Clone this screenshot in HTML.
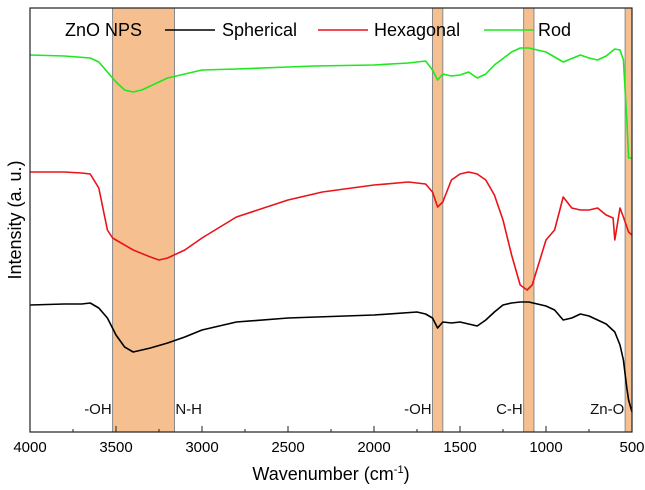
<!DOCTYPE html>
<html><head><meta charset="utf-8"><style>
body{margin:0;background:#fff}
svg{display:block;font-family:"Liberation Sans",sans-serif}
</style></head><body>
<svg id="chart" width="645" height="490"></svg>
<script>
const bands=[[3520,3160],[1660,1600],[1130,1070],[540,500]];
const xTicks=[4000,3500,3000,2500,2000,1500,1000,500];
const rodWn=[4000,3800,3650,3600,3550,3500,3450,3400,3350,3300,3200,3100,3000,2800,2500,2350,2000,1800,1700,1660,1630,1600,1550,1500,1450,1400,1350,1300,1200,1150,1100,1000,900,800,750,700,650,600,570,550,530,520,500];
const rodI=[445,444,442,438,428,418,410,408,410,414,422,426,430,431,433,434,435,437,439,430,420,426,424,425,428,422,426,435,448,452,452,448,438,445,442,440,444,451,450,440,380,342,342];
const hexWn=[4000,3800,3700,3650,3600,3550,3520,3480,3400,3300,3250,3200,3100,3000,2800,2500,2300,2000,1800,1700,1660,1630,1600,1550,1500,1450,1400,1350,1300,1250,1200,1150,1110,1080,1050,1000,950,900,850,800,750,700,650,610,600,570,550,520,500];
const hexI=[328,328,327,326,312,270,262,258,250,243,240,242,250,262,283,300,308,315,318,316,308,293,298,320,326,328,326,320,305,280,245,215,210,215,232,260,270,303,292,290,290,292,285,282,260,292,283,268,265];
const sphWn=[4000,3800,3700,3650,3600,3550,3500,3450,3400,3300,3200,3100,3000,2800,2500,2000,1750,1700,1660,1630,1600,1550,1500,1450,1400,1350,1300,1250,1200,1150,1100,1050,1000,950,900,850,800,750,700,650,600,570,550,530,520,500];
const sphI=[195,196,196,197,192,182,165,153,148,152,157,163,170,178,182,185,188,186,182,172,178,177,178,176,174,180,188,195,197,198,198,196,194,190,180,182,186,184,180,176,168,155,140,112,100,88];
const legendNames=["Spherical","Hexagonal","Rod"];
const legendColors=["#000000","#e8141a","#1ee81e"];
const annLabels=["-OH","N-H","-OH","C-H","Zn-O"];
const annWn=[3525,3155,1665,1135,545];
const annAnchor=["end","start","end","end","end"];

const L=30,R=632,T=8,B=432;
const xs=w=>L+(4000-w)/3500*(R-L);
const ys=v=>500-v;
const svg=document.getElementById('chart');
const NS='http://www.w3.org/2000/svg';
function mk(t,a,p){const e=document.createElementNS(NS,t);for(const k in a)e.setAttribute(k,a[k]);(p||svg).appendChild(e);return e;}

bands.forEach((b,i)=>{
 const r=mk('rect',{x:xs(b[0]),y:T,width:xs(b[1])-xs(b[0]),height:B-T,fill:'#f5bf8f',stroke:'#8a8a8a','stroke-width':1});
 
 
});
function line(wn,iv,col,name){
 const d=wn.map((w,i)=>(i?'L':'M')+xs(w).toFixed(1)+' '+ys(iv[i]).toFixed(1)).join(' ');
 const p=mk('path',{d:d,fill:'none',stroke:col,'stroke-width':1.6,'stroke-linejoin':'round'});
 
 
}
line(rodWn,rodI,legendColors[2],'rod-series');
line(hexWn,hexI,legendColors[1],'hexagonal-series');
line(sphWn,sphI,legendColors[0],'spherical-series');

const fr=mk('rect',{x:L,y:T,width:R-L,height:B-T,fill:'none',stroke:'#222','stroke-width':1.2});


xTicks.forEach(t=>{
 mk('line',{x1:xs(t),x2:xs(t),y1:B,y2:B-6,stroke:'#222'});
 const tx=mk('text',{x:xs(t),y:B+20,'text-anchor':'middle','font-size':15});
 tx.textContent=t;
 
 
 if(t>500){mk('line',{x1:xs(t-250),x2:xs(t-250),y1:B,y2:B-3,stroke:'#222'});}
});
annLabels.forEach((s,i)=>{
 const tx=mk('text',{x:xs(annWn[i]),y:414,'text-anchor':annAnchor[i],'font-size':15,fill:'#111'});
 tx.textContent=s;
 
 
});
const lg=mk('g',{});


const lt=mk('text',{x:65,y:36,'font-size':18},lg);lt.textContent='ZnO NPS';
const lx=[165,318,484],tx0=[222,374,538];
legendNames.forEach((n,i)=>{
 mk('line',{x1:lx[i],x2:lx[i]+50,y1:30,y2:30,stroke:legendColors[i],'stroke-width':1.6},lg);
 const t=mk('text',{x:tx0[i],y:36,'font-size':18},lg);t.textContent=n;
 
 
});
const xt=mk('text',{x:331,y:480,'text-anchor':'middle','font-size':18});
xt.innerHTML='Wavenumber (cm<tspan dy="-7" font-size="11">-1</tspan><tspan dy="7">)</tspan>';


const yt=mk('text',{x:0,y:0,'text-anchor':'middle','font-size':18,transform:'translate(21,220) rotate(-90)'});
yt.textContent='Intensity (a. u.)';


</script>
</body></html>
